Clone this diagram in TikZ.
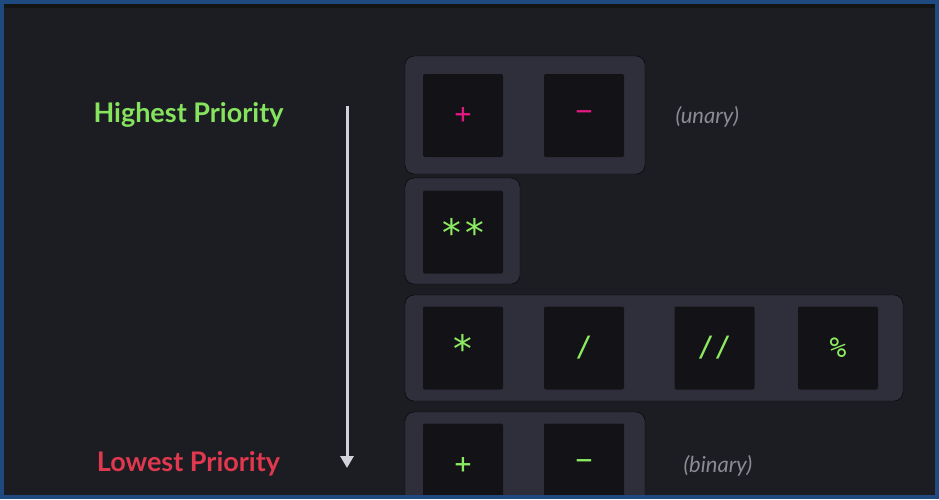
\documentclass[tikz,border=0pt]{standalone}
\usepackage{fontspec}
\setmainfont{Lato}
\setmonofont{DejaVu Sans Mono}
\usetikzlibrary{arrows.meta, positioning}
\definecolor{frameblue}{HTML}{1F4A80}
\definecolor{bgdark}{HTML}{1C1D22}
\definecolor{topstrip}{HTML}{141415}
\definecolor{panelgray}{HTML}{2E2F3A}
\definecolor{keyblack}{HTML}{131317}
\definecolor{opgreen}{HTML}{8CEB62}
\definecolor{opmagenta}{HTML}{E0187F}
\definecolor{highgreen}{HTML}{86E35E}
\definecolor{lowred}{HTML}{E0384E}
\definecolor{notegray}{HTML}{8B8B93}
\definecolor{arrowgray}{HTML}{D2D2DA}
\newcommand{\lowstar}[1]{\raisebox{-0.4em}{\scalebox{1.35}{#1}}}

\begin{document}
\begin{tikzpicture}[x=1pt, y=-1pt,
    panel/.style={fill=panelgray, rounded corners=9pt},
    key/.style={fill=keyblack, rounded corners=2pt, inner sep=0pt,
      minimum width=80pt, minimum height=83pt,
      font=\ttfamily\fontsize{28}{28}\selectfont},
    unaryop/.style={key, text=opmagenta},
    binop/.style={key, text=opgreen},
    level/.style={anchor=base, font=\bfseries\fontsize{27}{27}\selectfont},
    note/.style={anchor=base west, text=notegray, font=\itshape\fontsize{22}{22}\selectfont}]
				\useasboundingbox (0,0) rectangle (939,499);
				\begin{scope}
				\clip (3,3) rectangle (936,495);
				\fill[bgdark] (0,0) rectangle (939,499);
				\fill[topstrip] (0,0) rectangle (939,8);

				\draw[panel] (405,56) rectangle (645,174);
				\node[unaryop] (uplus) at (463,115.5) {+};
				\node[unaryop] (uminus) at (584,115.5) {−};
				\node[note] (unary) at (672,123) {(unary)};

				\draw[panel] (405,178) rectangle (520,284);
				\node[binop] (pow) at (463,232) {\lowstar{**}};

				\draw[panel] (405,295) rectangle (903,401);
				\node[binop] (mul) at (463,348) {\lowstar{*}};
				\node[binop] (div) at (584,348) {/};
				\node[binop] (floordiv) at (714.5,348) {//};
				\node[binop] (mod) at (838,348) {\%};

				\draw[panel] (405,412) rectangle (645,520);
				\node[binop] (bplus) at (463,465) {+};
				\node[binop] (bminus) at (584,465) {−};
				\node[note] (binary) at (680,472) {(binary)};

				\node[level, text=highgreen] (highest) at (188.5,122) {Highest Priority};
				\node[level, text=lowred] (lowest) at (188.5,471) {Lowest Priority};

				\coordinate (top) at (347,106);
				\coordinate (bottom) at (347,468);
				\draw[-{Triangle[length=12pt, width=13pt]}, arrowgray, line width=3pt] (top) -- (bottom);
				\end{scope}
				\draw[frameblue, line width=4pt] (2,1.5) rectangle (937,497);
\end{tikzpicture}
\end{document}
